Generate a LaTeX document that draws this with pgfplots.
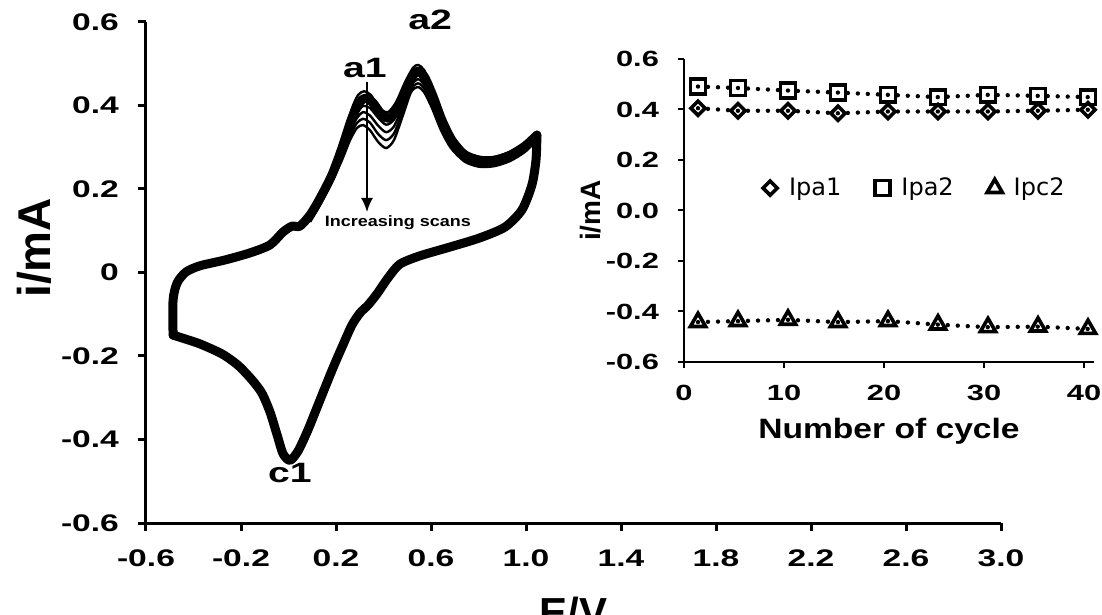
\documentclass[border=0pt]{standalone}
\usepackage{fontspec}
\setmainfont{Liberation Sans}
\newfontfamily\wideA{Liberation Sans}[FakeStretch=1.4]
\newfontfamily\wideB{Liberation Sans}[FakeStretch=1.2]
\newfontfamily\legfont{DejaVu Sans}
\usepackage{pgfplots}
\pgfplotsset{compat=1.18}
\usetikzlibrary{arrows.meta}

\begin{document}
\begin{tikzpicture}
\useasboundingbox (-73pt,-46pt) rectangle (478pt,261.5pt);
\begin{axis}[
  at={(0pt,0pt)}, anchor=south west,
  scale only axis, width=427.5pt, height=250.5pt,
  xmin=-0.6, xmax=3.0, ymin=-0.6, ymax=0.6,
  axis x line*=bottom, axis y line*=left,
  axis line style={line width=1.5pt},
  tick align=outside, major tick length=4pt,
  tick style={line width=1.5pt, black},
  xtick={-0.6,-0.2,0.2,0.6,1.0,1.4,1.8,2.2,2.6,3.0},
  xticklabels={-0.6,-0.2,0.2,0.6,1.0,1.4,1.8,2.2,2.6,3.0},
  ytick={-0.6,-0.4,-0.2,0,0.2,0.4,0.6},
  yticklabels={-0.6,-0.4,-0.2,0,0.2,0.4,0.6},
  tick label style={font=\wideA\bfseries\fontsize{12}{12}\selectfont},
  xticklabel style={yshift=-6pt},
  yticklabel style={xshift=-6pt},
  xlabel={E/V}, ylabel={i/mA},
  every axis x label/.style={at={(axis description cs:0.5,-0.2076)}, anchor=base, font=\bfseries\fontsize{21}{21}\selectfont},
  every axis y label/.style={at={(axis description cs:-0.131,0.549)}, anchor=center, rotate=90, font=\bfseries\fontsize{23}{23}\selectfont},
  clip=false,
]
% base cycle, anodic branch
\addplot[black, line width=4.5pt, smooth, tension=0.45, line join=round, line cap=round] coordinates {
(-0.486,-0.150) (-0.486,-0.066) (-0.469,-0.025) (-0.432,0.001) (-0.373,0.016)
(-0.267,0.030) (-0.162,0.047) (-0.078,0.066) (-0.023,0.097) (0.015,0.111)
(0.048,0.111) (0.091,0.138) (0.133,0.178) (0.183,0.234) (0.225,0.298)
(0.267,0.370) (0.301,0.408) (0.326,0.418) (0.356,0.406) (0.394,0.377)
(0.427,0.370) (0.461,0.394) (0.499,0.442) (0.528,0.475) (0.549,0.482)
(0.575,0.466) (0.608,0.423) (0.646,0.365) (0.688,0.317) (0.743,0.281)
(0.806,0.267) (0.869,0.269) (0.933,0.281) (0.996,0.303) (1.046,0.329)
};
% base cycle, cathodic branch
\addplot[black, line width=4.5pt, smooth, tension=0.45, line join=round, line cap=round] coordinates {
(1.046,0.329) (1.042,0.269) (1.025,0.210) (0.983,0.150) (0.912,0.109)
(0.806,0.083) (0.680,0.061) (0.554,0.040) (0.469,0.020) (0.419,-0.013)
(0.373,-0.051) (0.335,-0.078) (0.301,-0.097) (0.267,-0.126) (0.229,-0.174)
(0.187,-0.229) (0.133,-0.305) (0.082,-0.377) (0.040,-0.428) (0.006,-0.450)
(-0.023,-0.434) (-0.048,-0.389) (-0.078,-0.334) (-0.112,-0.289) (-0.154,-0.257)
(-0.213,-0.222) (-0.280,-0.195) (-0.373,-0.171) (-0.436,-0.159) (-0.486,-0.150)
};
% first scans (upper envelope)
\addplot[black, line width=1.2pt, smooth, tension=0.45] coordinates {
(0.091,0.145) (0.133,0.186) (0.183,0.245) (0.225,0.317) (0.267,0.393)
(0.293,0.425) (0.318,0.434) (0.347,0.425) (0.385,0.393) (0.419,0.384)
(0.453,0.408) (0.491,0.456) (0.524,0.490) (0.545,0.497) (0.571,0.485)
(0.604,0.442) (0.642,0.382) (0.684,0.329) (0.743,0.291) (0.806,0.277)
(0.869,0.277) (0.933,0.289) (0.996,0.310) (1.046,0.337)
};
% intermediate scans
\addplot[black, line width=1.2pt, smooth, tension=0.45] coordinates {
(0.091,0.134) (0.133,0.174) (0.183,0.230) (0.225,0.291) (0.259,0.346)
(0.288,0.381) (0.314,0.399) (0.343,0.394) (0.377,0.371) (0.411,0.354)
(0.444,0.366) (0.482,0.409) (0.516,0.454) (0.545,0.472) (0.571,0.458)
(0.604,0.419) (0.642,0.364) (0.684,0.316) (0.743,0.277) (0.806,0.264)
(0.869,0.266) (0.933,0.278) (0.996,0.300) (1.046,0.326)
};
\addplot[black, line width=1.2pt, smooth, tension=0.45] coordinates {
(0.091,0.130) (0.133,0.170) (0.183,0.226) (0.225,0.284) (0.259,0.337)
(0.288,0.370) (0.314,0.384) (0.343,0.376) (0.377,0.352) (0.411,0.336)
(0.444,0.350) (0.482,0.399) (0.516,0.447) (0.545,0.463) (0.571,0.450)
(0.604,0.411) (0.642,0.356) (0.684,0.310) (0.743,0.273) (0.806,0.260)
(0.869,0.262) (0.933,0.274) (0.996,0.296) (1.046,0.323)
};
\addplot[black, line width=1.2pt, smooth, tension=0.45] coordinates {
(0.091,0.125) (0.133,0.166) (0.183,0.221) (0.225,0.276) (0.259,0.327)
(0.288,0.358) (0.314,0.368) (0.343,0.359) (0.377,0.332) (0.411,0.317)
(0.444,0.333) (0.482,0.388) (0.516,0.439) (0.545,0.453) (0.571,0.441)
(0.604,0.402) (0.642,0.349) (0.684,0.304) (0.743,0.269) (0.806,0.257)
(0.869,0.259) (0.933,0.271) (0.996,0.293) (1.046,0.320)
};
% last scans (lower envelope)
\addplot[black, line width=1.2pt, smooth, tension=0.45] coordinates {
(0.091,0.121) (0.133,0.162) (0.183,0.217) (0.225,0.269) (0.259,0.317)
(0.288,0.346) (0.314,0.353) (0.343,0.341) (0.377,0.313) (0.411,0.298)
(0.444,0.317) (0.482,0.377) (0.516,0.432) (0.545,0.444) (0.571,0.432)
(0.604,0.394) (0.642,0.341) (0.684,0.298) (0.743,0.265) (0.806,0.253)
(0.869,0.255) (0.933,0.267) (0.996,0.289) (1.046,0.317)
};
\node[font=\wideA\bfseries\fontsize{14}{14}\selectfont, anchor=base] at (axis cs:0.322,0.466) {a1};
\node[font=\wideA\bfseries\fontsize{14}{14}\selectfont, anchor=base] at (axis cs:0.596,0.581) {a2};
\node[font=\wideA\bfseries\fontsize{14}{14}\selectfont, anchor=base] at (axis cs:0.006,-0.504) {c1};
\draw[line width=0.8pt, -{Latex[length=7pt,width=6pt]}] (axis cs:0.3305,0.456) -- (axis cs:0.3305,0.145);
\node[font=\wideB\bfseries\fontsize{7.5}{7.5}\selectfont] at (axis cs:0.461,0.1186) {Increasing scans};
\end{axis}

\begin{axis}[
  at={(269pt,80.5pt)}, anchor=south west,
  scale only axis, width=205pt, height=151.5pt,
  xmin=0, xmax=41, ymin=-0.6, ymax=0.6,
  axis x line*=bottom, axis y line*=left,
  axis line style={line width=1pt},
  tick align=outside, major tick length=3pt,
  tick style={line width=1pt, black},
  xtick={0,10,20,30,40}, xticklabels={0,10,20,30,40},
  ytick={-0.6,-0.4,-0.2,0,0.2,0.4,0.6},
  yticklabels={-0.6,-0.4,-0.2,0.0,0.2,0.4,0.6},
  tick label style={font=\wideA\bfseries\fontsize{11}{11}\selectfont},
  xticklabel style={yshift=-5pt},
  yticklabel style={xshift=-6pt},
  xlabel={Number of cycle}, ylabel={i/mA},
  every axis x label/.style={at={(axis description cs:0.5,-0.251)}, anchor=base, font=\wideB\bfseries\fontsize{14}{14}\selectfont},
  every axis y label/.style={at={(axis description cs:-0.228,0.5)}, anchor=center, rotate=90, font=\bfseries\fontsize{14}{14}\selectfont},
  legend style={draw=none, fill=none, at={(axis description cs:0.563,0.574)}, anchor=center,
    font=\legfont\fontsize{12}{12}\selectfont,
    /tikz/every even column/.append style={column sep=14pt}},
  legend columns=3,
  legend image code/.code={\draw[#1] plot coordinates {(0pt,0pt)}; \path[draw=none,fill=none] (-4.5pt,0pt) -- (7.5pt,0pt);},
  clip=false,
]
\addplot[black, line width=2.2pt, dash pattern=on 0pt off 5pt, line cap=round,
  mark=square, mark size=2.5pt, mark options={solid, rotate=45, line width=1.8pt, fill=none, line cap=butt}] coordinates {
(1.4,0.405) (5.4,0.395) (10.4,0.395) (15.4,0.385) (20.4,0.392)
(25.4,0.392) (30.4,0.392) (35.4,0.395) (40.4,0.399)
};
\addlegendentry{Ipa1}
\addplot[black, line width=2.2pt, dash pattern=on 0pt off 5pt, line cap=round,
  mark=square, mark size=3.7pt, mark options={solid, line width=1.8pt, fill=none, line cap=butt}] coordinates {
(1.4,0.491) (5.4,0.485) (10.4,0.475) (15.4,0.467) (20.4,0.458)
(25.4,0.449) (30.4,0.458) (35.4,0.454) (40.4,0.449)
};
\addlegendentry{Ipa2}
\addplot[black, line width=2.2pt, dash pattern=on 0pt off 5pt, line cap=round,
  mark=triangle, mark size=4.4pt, mark options={solid, line width=1.8pt, fill=none, line cap=butt}] coordinates {
(1.4,-0.442) (5.4,-0.438) (10.4,-0.433) (15.4,-0.442) (20.4,-0.438)
(25.4,-0.452) (30.4,-0.462) (35.4,-0.460) (40.4,-0.469)
};
\addlegendentry{Ipc2}
\end{axis}
\end{tikzpicture}
\end{document}
